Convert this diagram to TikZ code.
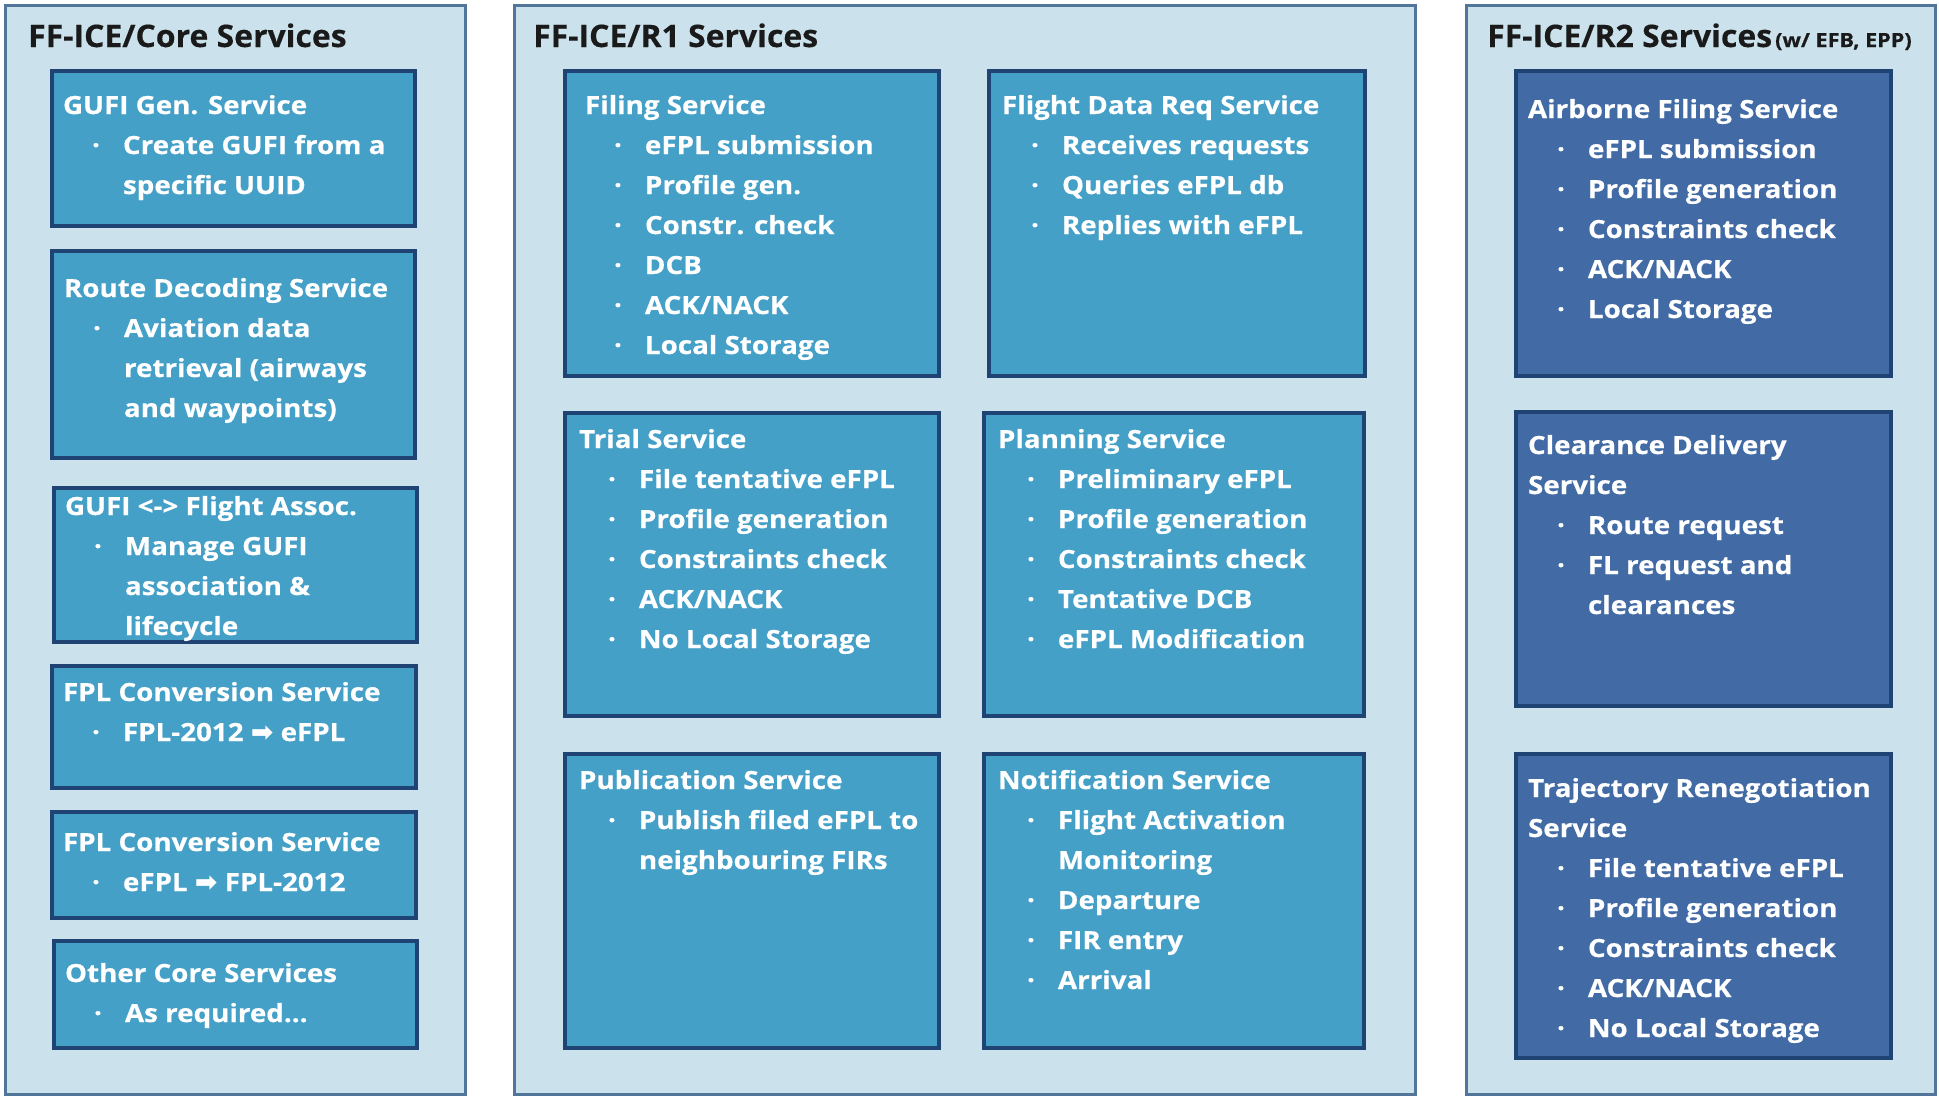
\documentclass[tikz,border=0pt]{standalone}
\usepackage{fontspec}
\setmainfont{Open Sans}[BoldFeatures={FakeStretch=1.11, FakeBold=0.5}]
\newfontfamily\titlefont{Open Sans}[BoldFeatures={FakeStretch=1.03, FakeBold=0.4}]
\newfontfamily\symfont{DejaVu Sans}
\definecolor{panelfill}{HTML}{CBE2EC}
\definecolor{paneldraw}{HTML}{52759A}
\definecolor{boxfill}{HTML}{45A0C8}
\definecolor{boxfilltwo}{HTML}{426BA5}
\definecolor{boxdraw}{HTML}{1F4373}
\definecolor{titlecol}{HTML}{1A1A1A}
\tikzset{
  panel/.style={draw=paneldraw, fill=panelfill, line width=3pt, rectangle, inner sep=0pt},
  svc/.style={draw=boxdraw, fill=boxfill, line width=4pt, rectangle, inner sep=0pt},
  svctwo/.style={svc, fill=boxfilltwo},
  svctxt/.style={anchor=base west, inner sep=0pt, outer sep=0pt, text=white, font=\bfseries},
  ttl/.style={anchor=base west, inner sep=0pt, text=titlecol, font=\titlefont\bfseries\fontsize{31}{36}\selectfont}
}
% name, style, x1, y1, x2, y2 (outer edges, px)
\newcommand\mkbox[6]{%
  \node[#2, minimum width={#5-#3-4}, minimum height={#6-#4-4}] (#1) at ({(#3+#5)/2},{(#4+#6)/2}) {};}
\newcommand\mkpanel[5]{%
  \node[panel, minimum width={#4-#2-3}, minimum height={#5-#3-3}] (#1) at ({(#2+#4)/2},{(#3+#5)/2}) {};}
\newcommand\mktext[4]{%
  \node[svctxt] (#1) at (#2,#3) {\parbox[t]{420pt}{\fontsize{25}{40}\selectfont\bfseries #4}};}
\newcommand\hd[1]{\mbox{#1}\par}
\newcommand\bl[1]{\mbox{\hspace{29pt}\makebox[31pt][l]{·}#1}\par}
\newcommand\cl[1]{\mbox{\hspace{60pt}#1}\par}
\newcommand\arr{{\symfont\fontsize{27}{40}\selectfont ➡}}
\begin{document}
\begin{tikzpicture}[x=1pt,y=-1pt]
\useasboundingbox (0,0) rectangle (1939,1098);
% panels
\mkpanel{core}{4}{4}{467}{1096}
\mkpanel{rone}{513}{4}{1417}{1096}
\mkpanel{rtwo}{1465}{4}{1937}{1096}
\node[ttl] (coret) at (28,47) {FF-ICE/Core Services};
\node[ttl] (ronet) at (533,47) {FF-ICE/R1 Services};
\node[ttl] (rtwot) at (1487,47) {FF-ICE/R2 Services\hspace{3pt}{\normalfont\bfseries\fontsize{19.5}{20}\selectfont (w/ EFB, EPP)}};
% core boxes
\mkbox{gufi}{svc}{50}{69}{417}{228}
\mktext{gufit}{63}{114}{\hd{GUFI Gen. Service}\bl{Create GUFI from a}\cl{specific UUID}}
\mkbox{route}{svc}{50}{249}{417}{460}
\mktext{routet}{64}{297}{\hd{Route Decoding Service}\bl{Aviation data}\cl{retrieval (airways}\cl{and waypoints)}}
\mkbox{assoc}{svc}{52}{486}{419}{644}
\mktext{assoct}{65}{515}{\hd{GUFI <-> Flight Assoc.}\bl{Manage GUFI}\cl{association \&}\cl{lifecycle}}
\mkbox{convone}{svc}{50}{664}{418}{790}
\mktext{convonet}{63}{701}{\hd{FPL Conversion Service}\bl{FPL-2012 \arr\ eFPL}}
\mkbox{convtwo}{svc}{50}{810}{418}{920}
\mktext{convtwot}{63}{851}{\hd{FPL Conversion Service}\bl{eFPL \arr\ FPL-2012}}
\mkbox{other}{svc}{52}{939}{419}{1050}
\mktext{othert}{65}{982}{\hd{Other Core Services}\bl{As required...}}
% R1 boxes
\mkbox{filing}{svc}{563}{69}{941}{378}
\mktext{filingt}{585}{114}{\hd{Filing Service}\bl{eFPL submission}\bl{Profile gen.}\bl{Constr. check}\bl{DCB}\bl{ACK/NACK}\bl{Local Storage}}
\mkbox{fdr}{svc}{987}{69}{1367}{378}
\mktext{fdrt}{1002}{114}{\hd{Flight Data Req Service}\bl{Receives requests}\bl{Queries eFPL db}\bl{Replies with eFPL}}
\mkbox{trial}{svc}{563}{411}{941}{718}
\mktext{trialt}{579}{448}{\hd{Trial Service}\bl{File tentative eFPL}\bl{Profile generation}\bl{Constraints check}\bl{ACK/NACK}\bl{No Local Storage}}
\mkbox{plan}{svc}{982}{411}{1366}{718}
\mktext{plant}{998}{448}{\hd{Planning Service}\bl{Preliminary eFPL}\bl{Profile generation}\bl{Constraints check}\bl{Tentative DCB}\bl{eFPL Modification}}
\mkbox{pub}{svc}{563}{752}{941}{1050}
\mktext{pubt}{579}{789}{\hd{Publication Service}\bl{Publish filed eFPL to}\cl{neighbouring FIRs}}
\mkbox{notif}{svc}{982}{752}{1366}{1050}
\mktext{notift}{998}{789}{\hd{Notification Service}\bl{Flight Activation}\cl{Monitoring}\bl{Departure}\bl{FIR entry}\bl{Arrival}}
% R2 boxes
\mkbox{airb}{svctwo}{1514}{69}{1893}{378}
\mktext{airbt}{1528}{118}{\hd{Airborne Filing Service}\bl{eFPL submission}\bl{Profile generation}\bl{Constraints check}\bl{ACK/NACK}\bl{Local Storage}}
\mkbox{clear}{svctwo}{1514}{410}{1893}{708}
\mktext{cleart}{1528}{454}{\hd{Clearance Delivery}\hd{Service}\bl{Route request}\bl{FL request and}\cl{clearances}}
\mkbox{traj}{svctwo}{1514}{752}{1893}{1060}
\mktext{trajt}{1528}{797}{\hd{Trajectory Renegotiation}\hd{Service}\bl{File tentative eFPL}\bl{Profile generation}\bl{Constraints check}\bl{ACK/NACK}\bl{No Local Storage}}
\end{tikzpicture}
\end{document}
